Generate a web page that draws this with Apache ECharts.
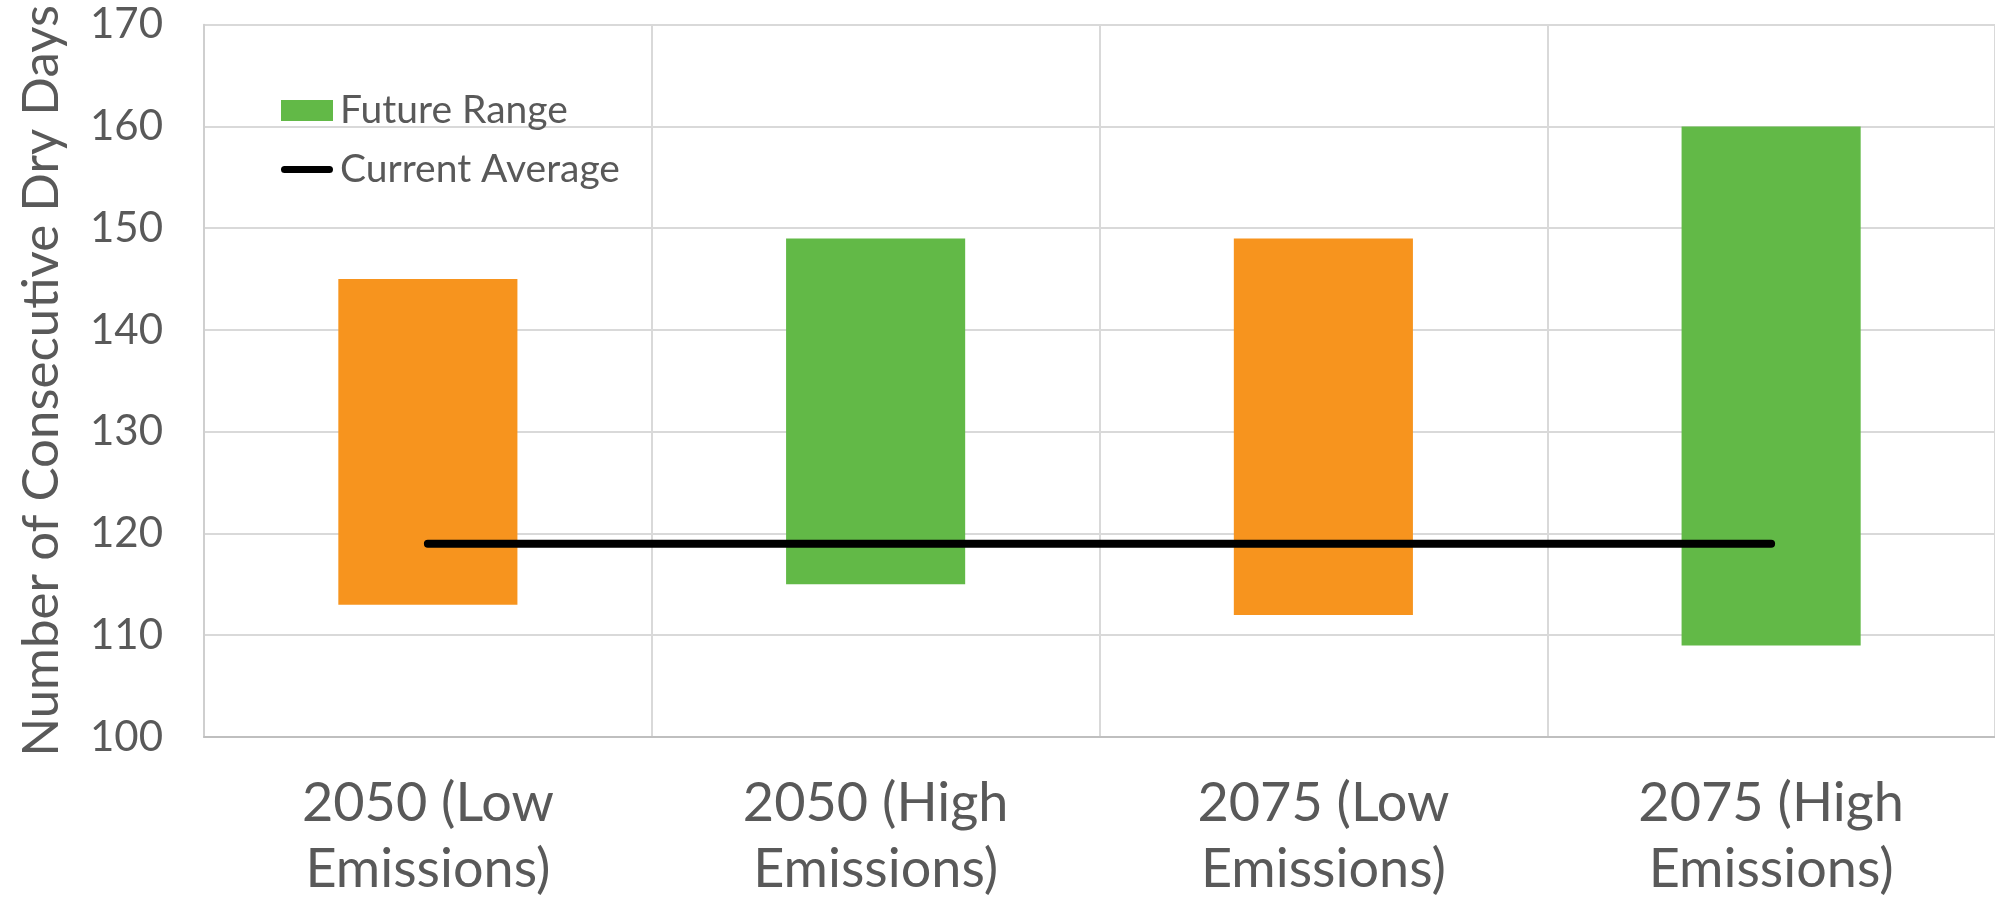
<!DOCTYPE html>
<html>
<head>
<meta charset="utf-8">
<script src="https://cdn.jsdelivr.net/npm/echarts@6/dist/echarts.min.js"></script>
<style>
html,body{margin:0;padding:0;background:#fff;}
#chart{width:1995px;height:903px;}
</style>
</head>
<body>
<div id="chart"></div>
<script>
var categories = ['2050 (Low\nEmissions)', '2050 (High\nEmissions)', '2075 (Low\nEmissions)', '2075 (High\nEmissions)'];
var rangeLow = [113, 115, 112, 109];
var rangeHigh = [145, 149, 149, 160];
var currentAverage = [119, 119, 119, 119];
var barColors = ['#F7941E', '#62B947', '#F7941E', '#62B947'];
var yTicks = [100, 110, 120, 130, 140, 150, 160, 170];

var textColor = '#595959';
var fontName = 'Lato';
var chart = echarts.init(document.getElementById('chart'), null, {renderer: 'canvas'});

var rangeData = rangeHigh.map(function (h, i) {
  return {value: h - rangeLow[i], itemStyle: {color: barColors[i]}};
});

var option = {
  animation: false,
  backgroundColor: '#ffffff',
  grid: {left: 204, right: 0, top: 24.7, bottom: 159.4, containLabel: false},
  legend: {
    orient: 'vertical',
    left: 276,
    top: 86,
    itemWidth: 52,
    itemHeight: 21,
    itemGap: 20,
    selectedMode: false,
    textStyle: {fontFamily: fontName, fontSize: 39, color: textColor, lineHeight: 39, padding: [0, 0, 0, 2]},
    data: [
      {name: 'Future Range', icon: 'rect'},
      {name: 'Current Average', icon: 'path://M4,0L54,0A4,4,0,0,1,54,8L4,8A4,4,0,0,1,4,0Z'}
    ]
  },
  xAxis: {
    type: 'category',
    data: categories,
    boundaryGap: true,
    axisLine: {show: true, lineStyle: {color: '#BFBFBF', width: 2}},
    axisTick: {show: false},
    splitLine: {show: true, lineStyle: {color: '#D9D9D9', width: 2}},
    axisLabel: {
      interval: 0,
      margin: 34,
      fontFamily: fontName,
      fontSize: 54,
      lineHeight: 66,
      color: textColor
    }
  },
  yAxis: {
    type: 'value',
    min: yTicks[0],
    max: yTicks[yTicks.length - 1],
    interval: 10,
    name: 'Number of Consecutive Dry Days',
    nameLocation: 'middle',
    nameGap: 137,
    nameRotate: 90,
    nameTextStyle: {fontFamily: fontName, fontSize: 51, color: textColor},
    axisLine: {show: true, lineStyle: {color: '#CFCFCF', width: 2}},
    axisTick: {show: false},
    splitLine: {show: true, lineStyle: {color: '#D9D9D9', width: 2}},
    axisLabel: {
      margin: 41,
      fontFamily: fontName,
      fontSize: 42,
      color: textColor
    }
  },
  series: [
    {
      name: 'base',
      type: 'bar',
      stack: 'range',
      barWidth: '40%',
      silent: true,
      itemStyle: {color: 'rgba(0,0,0,0)'},
      data: rangeLow
    },
    {
      name: 'Future Range',
      type: 'bar',
      stack: 'range',
      barWidth: '40%',
      itemStyle: {color: '#62B947'},
      data: rangeData
    },
    {
      name: 'Current Average',
      type: 'line',
      symbol: 'none',
      z: 5,
      lineStyle: {color: '#000000', width: 8, cap: 'round'},
      itemStyle: {color: '#000000'},
      data: currentAverage
    }
  ]
};
chart.setOption(option);
</script>
</body>
</html>
